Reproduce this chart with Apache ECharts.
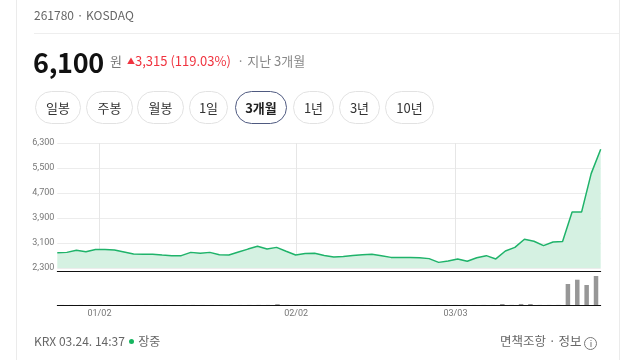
<!DOCTYPE html>
<html><head><meta charset="utf-8">
<script src="https://cdn.jsdelivr.net/npm/echarts@6/dist/echarts.min.js"></script>
<style>
html,body{margin:0;padding:0;width:640px;height:360px;overflow:hidden;background:#fff;font-family:"Noto Sans CJK KR","Noto Sans",sans-serif;}
#chart{position:absolute;left:0;top:0;width:640px;height:360px;}
.abs{position:absolute;white-space:nowrap;}
.vline{position:absolute;top:0;width:1px;height:360px;background:#ebebeb;}
.btn{position:absolute;top:91px;height:31px;border:1px solid #e2e2e2;border-radius:17px;font-size:13px;color:#333;display:flex;align-items:center;justify-content:center;box-sizing:content-box;}
.btn.sel{border:1.5px solid #4f5a80;font-weight:bold;color:#222;top:90.5px;}
</style></head>
<body>
<div id="chart"></div>
<div class="vline" style="left:16px"></div>
<div class="vline" style="left:619px"></div>
<div class="abs" style="left:34px;top:6px;font-size:12px;line-height:18px;color:#666;">261780 · KOSDAQ</div>
<div class="abs" style="left:34px;top:33px;width:585px;height:1px;background:#eee;"></div>
<div class="abs" style="left:33px;top:46px;font-size:27px;line-height:32px;font-weight:bold;color:#111;letter-spacing:-0.3px;">6,100</div>
<div class="abs" style="left:110px;top:52px;font-size:13px;line-height:18px;color:#777;">원</div>
<div class="abs" style="left:127px;top:52px;font-size:13px;line-height:18px;color:#f0333f;"><span style="font-size:8px;position:relative;top:-2px;">▲</span>3,315 (119.03%)</div>
<div class="abs" style="left:237px;top:52px;font-size:13px;line-height:18px;color:#888;">· 지난 3개월</div>
<div class="btn" style="left:35px;width:44px;">일봉</div>
<div class="btn" style="left:86px;width:45px;">주봉</div>
<div class="btn" style="left:137px;width:45px;">월봉</div>
<div class="btn" style="left:189px;width:37px;">1일</div>
<div class="btn sel" style="left:235px;width:50px;">3개월</div>
<div class="btn" style="left:293px;width:39px;">1년</div>
<div class="btn" style="left:339px;width:39px;">3년</div>
<div class="btn" style="left:385px;width:47px;">10년</div>
<div class="abs" style="left:34px;top:332px;font-size:12px;line-height:18px;color:#666;">KRX 03.24. 14:37 <span style="display:inline-block;width:5px;height:5px;border-radius:50%;background:#16b55f;vertical-align:2px;margin:0 2px 0 1px;"></span> 장중</div>
<div class="abs" style="left:500px;top:332px;font-size:12.5px;line-height:18px;color:#666;">면책조항 · 정보 <span style="display:inline-block;width:11px;height:11px;border:1px solid #777;border-radius:50%;font-size:9px;line-height:11px;text-align:center;vertical-align:-1px;">i</span></div>
<script>
const dates = ['12/24','12/26','12/29','12/30','01/02','01/05','01/06','01/07','01/08','01/09',
  '01/12','01/13','01/14','01/15','01/16','01/19','01/20','01/21','01/22','01/23',
  '01/26','01/27','01/28','01/29','01/30','02/02','02/03','02/04','02/05','02/06',
  '02/09','02/10','02/11','02/12','02/13','02/19','02/20','02/23','02/24','02/25',
  '02/26','02/27','03/03','03/04','03/05','03/06','03/09','03/10','03/11','03/12',
  '03/13','03/16','03/17','03/18','03/19','03/20','03/23','03/24'];
const prices = [2785,2800,2865,2820,2895,2890,2875,2810,2745,2740,
  2740,2715,2695,2695,2800,2770,2800,2725,2715,2810,
  2905,2995,2905,2960,2835,2715,2765,2770,2700,2650,
  2670,2700,2725,2740,2695,2640,2640,2635,2625,2600,
  2480,2525,2590,2515,2630,2695,2590,2845,2960,3220,
  3155,3015,3130,3150,4095,4095,5320,6100];
const volumes = [30000,25000,35000,20000,40000,30000,25000,20000,25000,20000,
  20000,18000,22000,20000,35000,25000,30000,20000,20000,30000,
  40000,50000,40000,420000,35000,30000,20000,20000,18000,20000,
  18000,20000,22000,25000,20000,18000,15000,18000,20000,22000,
  30000,25000,25000,30000,30000,40000,35000,500000,60000,520000,
  500000,50000,45000,50000,10500000,12650000,10000000,14500000];
const tickLabels = ['01/02','02/02','03/03'];
const priceTicks = [2300,3100,3900,4700,5500,6300];

const isTick = (i, v) => tickLabels.indexOf(v) >= 0;
const fmt = v => String(v).replace(/\B(?=(\d{3})+(?!\d))/g, ',');
const chart = echarts.init(document.getElementById('chart'), null, {renderer:'canvas'});
chart.setOption({
  animation:false,
  grid:[{left:57.3, right:39.3, top:143, height:125}, {left:57.3, right:39.3, top:271, height:34}],
  xAxis:[
    {type:'category', gridIndex:0, data:dates, boundaryGap:false, show:false},
    {type:'category', gridIndex:0, data:dates, boundaryGap:true,
      axisLine:{show:false}, axisTick:{show:false}, axisLabel:{show:false},
      splitLine:{show:true, interval:isTick, alignWithLabel:true, lineStyle:{color:'#e6e6e6', width:1}}},
    {type:'category', gridIndex:1, data:dates, boundaryGap:true,
      axisLine:{lineStyle:{color:'#111', width:1}},
      axisTick:{interval:isTick, alignWithLabel:true, length:4, lineStyle:{color:'#333'}},
      axisLabel:{interval:isTick, fontSize:9, color:'#777', margin:4, fontFamily:'Roboto'}},
    {type:'category', gridIndex:1, data:dates, boundaryGap:true, position:'top',
      axisLine:{lineStyle:{color:'#111', width:1}}, axisTick:{show:false}, axisLabel:{show:false}}
  ],
  yAxis:[
    {type:'value', gridIndex:0, min:priceTicks[0], max:priceTicks[priceTicks.length-1], interval:priceTicks[1]-priceTicks[0],
      axisLine:{show:false}, axisTick:{show:false},
      axisLabel:{formatter:fmt, fontSize:9, color:'#777', margin:3, fontFamily:'Roboto'},
      splitLine:{lineStyle:{color:'#ececec', width:1}}},
    {type:'value', gridIndex:1, min:0, max:17000000, show:false}
  ],
  series:[
    {type:'line', xAxisIndex:0, yAxisIndex:0, data:prices, symbol:'none',
      lineStyle:{color:'#1fb36a', width:1.5}, areaStyle:{color:'#d5f1e2', opacity:1}},
    {type:'bar', xAxisIndex:2, yAxisIndex:1, data:volumes, barWidth:4.5,
      itemStyle:{color:'#979797'}}
  ]
});
</script>
</body></html>
